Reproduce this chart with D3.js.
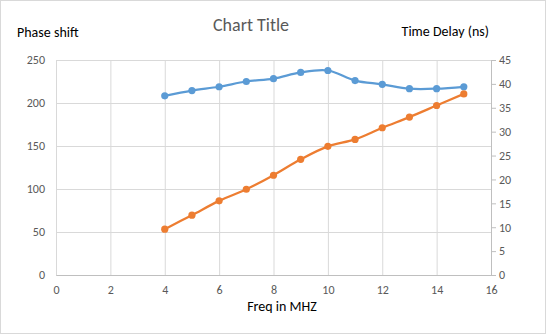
<!DOCTYPE html>
<html>
<head>
<meta charset="utf-8">
<script src="https://cdn.jsdelivr.net/npm/d3@7"></script>
<style>
  html, body { margin: 0; padding: 0; background: #fff; }
  svg { display: block; font-family: Calibri, Carlito, "Open Sans", "Liberation Sans", sans-serif; }
</style>
</head>
<body>
<svg id="chart" width="546" height="334"></svg>
<script>
// Frequency sweep (MHz)
const freq = [4, 5, 6, 7, 8, 9, 10, 11, 12, 13, 14, 15];
// Phase shift (degrees), left axis
const phaseShift = [53.3, 69.6, 86.2, 99.7, 116, 134.5, 149.6, 157.7, 171.2, 183.6, 197.1, 210.6];
// Time delay (ns), right axis
const timeDelay = [37.5, 38.6, 39.4, 40.5, 41.1, 42.4, 42.8, 40.7, 39.9, 39.0, 39.0, 39.4];

const xTicks = [0, 2, 4, 6, 8, 10, 12, 14, 16];
const leftTicks = [0, 50, 100, 150, 200, 250];
const rightTicks = [0, 5, 10, 15, 20, 25, 30, 35, 40, 45];

const svg = d3.select("#chart");
const W = 546, H = 334;
const plot = { left: 56, right: 491, top: 60, bottom: 275 };
const font = "Calibri, Carlito, Lato, 'Open Sans', sans-serif";

// chart frame
svg.append("rect").attr("x", 0.5).attr("y", 0.5).attr("width", W - 1).attr("height", H - 1)
  .attr("fill", "#fff").attr("stroke", "#d9d9d9");

const x = d3.scaleLinear().domain([0, 16]).range([plot.left, plot.right]);
const yL = d3.scaleLinear().domain([0, 250]).range([plot.bottom, plot.top]);
const yR = d3.scaleLinear().domain([0, 45]).range([plot.bottom, plot.top]);

const tickColor = "#595959";
const gridColor = "#d9d9d9";

// horizontal gridlines (left scale)
svg.append("g").attr("transform", `translate(${plot.left},0)`)
  .call(d3.axisLeft(yL).tickValues(leftTicks).tickSize(-(plot.right - plot.left)).tickFormat(""))
  .call(g => g.select(".domain").remove())
  .call(g => g.selectAll("line").attr("stroke", gridColor));

// vertical gridlines
svg.append("g").attr("transform", `translate(0,${plot.top})`)
  .call(d3.axisBottom(x).tickValues(xTicks).tickSize(plot.bottom - plot.top).tickFormat(""))
  .call(g => g.select(".domain").remove())
  .call(g => g.selectAll("line").attr("stroke", gridColor));

// left axis labels
svg.append("g").attr("transform", `translate(${plot.left},0)`)
  .call(d3.axisLeft(yL).tickValues(leftTicks).tickSize(0).tickPadding(11))
  .call(g => g.select(".domain").remove())
  .call(g => g.selectAll("text").attr("fill", tickColor).attr("font-size", 12)
    .attr("font-family", font));

// right axis with outward ticks
svg.append("g").attr("transform", `translate(${plot.right},0)`)
  .call(d3.axisRight(yR).tickValues(rightTicks).tickSize(5).tickSizeOuter(0).tickPadding(3))
  .call(g => g.select(".domain").attr("stroke", "#bfbfbf"))
  .call(g => g.selectAll("line").attr("stroke", "#bfbfbf"))
  .call(g => g.selectAll("text").attr("fill", tickColor).attr("font-size", 12)
    .attr("font-family", font));

// bottom axis
svg.append("g").attr("transform", `translate(0,${plot.bottom})`)
  .call(d3.axisBottom(x).tickValues(xTicks).tickSize(0).tickSizeOuter(0).tickPadding(10))
  .call(g => g.select(".domain").attr("stroke", "#bfbfbf"))
  .call(g => g.selectAll("text").attr("fill", tickColor).attr("font-size", 12)
    .attr("font-family", font));

const curve = d3.curveCatmullRom.alpha(0.5);

function drawSeries(values, yScale, color) {
  const pts = freq.map((f, i) => [f, values[i]]);
  svg.append("path").datum(pts)
    .attr("fill", "none").attr("stroke", color).attr("stroke-width", 2.25)
    .attr("stroke-linejoin", "round")
    .attr("d", d3.line().x(d => x(d[0])).y(d => yScale(d[1])).curve(curve));
  svg.append("g").selectAll("circle").data(pts).join("circle")
    .attr("cx", d => x(d[0])).attr("cy", d => yScale(d[1])).attr("r", 3.6)
    .attr("fill", color);
}

drawSeries(timeDelay, yR, "#5b9bd5");
drawSeries(phaseShift, yL, "#ed7d31");

// titles
svg.append("text").attr("x", 251).attr("y", 31).attr("text-anchor", "middle")
  .attr("font-family", font).attr("font-size", 18).attr("fill", "#595959").text("Chart Title");
svg.append("text").attr("x", 17).attr("y", 37)
  .attr("font-family", font).attr("font-size", 14).attr("fill", "#000").text("Phase shift");
svg.append("text").attr("x", 489).attr("y", 36).attr("text-anchor", "end")
  .attr("font-family", font).attr("font-size", 14).attr("fill", "#000").text("Time Delay (ns)");
svg.append("text").attr("x", 282).attr("y", 311).attr("text-anchor", "middle")
  .attr("font-family", font).attr("font-size", 14).attr("fill", "#000").text("Freq in MHZ");
</script>
</body>
</html>
